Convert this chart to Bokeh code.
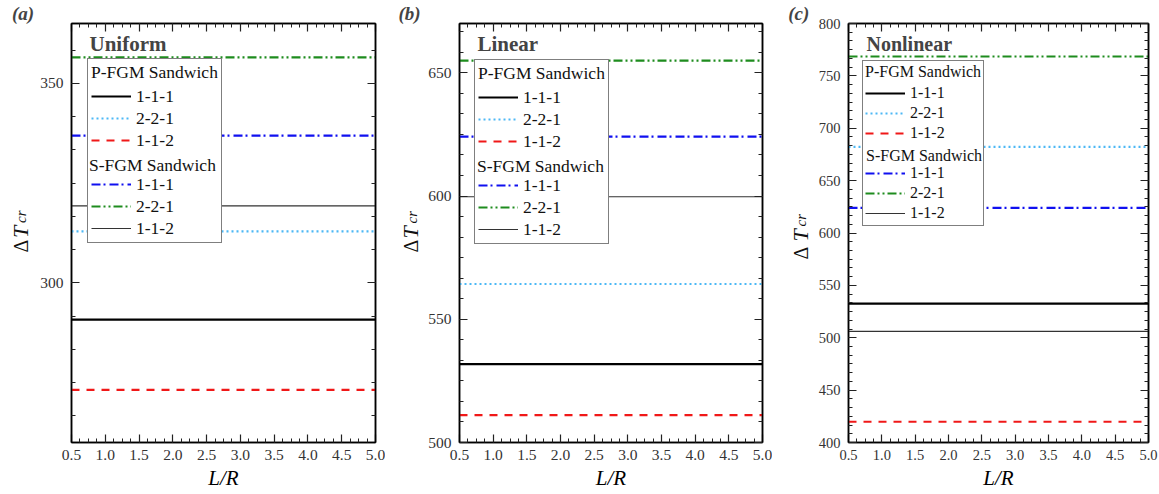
import numpy as np
from math import pi
from bokeh.plotting import figure
from bokeh.models import (Legend, LegendItem, Label, LinearAxis, FixedTicker,
                          PrintfTickFormatter, Range1d, Title)
from bokeh.layouts import row
from bokeh.embed import file_html
from bokeh.resources import INLINE

# ---------------- data ----------------
LR = [0.5, 1.0, 1.5, 2.0, 2.5, 3.0, 3.5, 4.0, 4.5, 5.0]

# (a) Uniform
uni_P111 = [290.8, 290.8, 290.8, 290.8, 290.8, 290.8, 290.8, 290.8, 290.8, 290.8]
uni_P221 = [312.9, 312.9, 312.9, 312.9, 312.9, 312.9, 312.9, 312.9, 312.9, 312.9]
uni_P112 = [273.2, 273.2, 273.2, 273.2, 273.2, 273.2, 273.2, 273.2, 273.2, 273.2]
uni_S111 = [336.9, 336.9, 336.9, 336.9, 336.9, 336.9, 336.9, 336.9, 336.9, 336.9]
uni_S221 = [356.5, 356.5, 356.5, 356.5, 356.5, 356.5, 356.5, 356.5, 356.5, 356.5]
uni_S112 = [319.3, 319.3, 319.3, 319.3, 319.3, 319.3, 319.3, 319.3, 319.3, 319.3]

# (b) Linear
lin_P111 = [531.8, 531.8, 531.8, 531.8, 531.8, 531.8, 531.8, 531.8, 531.8, 531.8]
lin_P221 = [564.3, 564.3, 564.3, 564.3, 564.3, 564.3, 564.3, 564.3, 564.3, 564.3]
lin_P112 = [511.1, 511.1, 511.1, 511.1, 511.1, 511.1, 511.1, 511.1, 511.1, 511.1]
lin_S111 = [624.1, 624.1, 624.1, 624.1, 624.1, 624.1, 624.1, 624.1, 624.1, 624.1]
lin_S221 = [654.9, 654.9, 654.9, 654.9, 654.9, 654.9, 654.9, 654.9, 654.9, 654.9]
lin_S112 = [599.7, 599.7, 599.7, 599.7, 599.7, 599.7, 599.7, 599.7, 599.7, 599.7]

# (c) Nonlinear
non_P111 = [532.5, 532.5, 532.5, 532.5, 532.5, 532.5, 532.5, 532.5, 532.5, 532.5]
non_P221 = [682.2, 682.2, 682.2, 682.2, 682.2, 682.2, 682.2, 682.2, 682.2, 682.2]
non_P112 = [419.8, 419.8, 419.8, 419.8, 419.8, 419.8, 419.8, 419.8, 419.8, 419.8]
non_S111 = [624.0, 624.0, 624.0, 624.0, 624.0, 624.0, 624.0, 624.0, 624.0, 624.0]
non_S221 = [768.5, 768.5, 768.5, 768.5, 768.5, 768.5, 768.5, 768.5, 768.5, 768.5]
non_S112 = [506.1, 506.1, 506.1, 506.1, 506.1, 506.1, 506.1, 506.1, 506.1, 506.1]

series_labels = ["1-1-1", "2-2-1", "1-1-2"]
group_labels = ["P-FGM Sandwich", "S-FGM Sandwich"]
panel_titles = ["Uniform", "Linear", "Nonlinear"]
panel_tags = ["a", "b", "c"]
x_ticks = [0.5, 1.0, 1.5, 2.0, 2.5, 3.0, 3.5, 4.0, 4.5, 5.0]

# ---------------- styles ----------------
SERIF = "Liberation Serif"
FRAME_H = 419
TOP = 23
BOTTOM = 51
STY = {
    "P111": dict(line_color="black", line_width=2.2, line_dash="solid"),
    "P221": dict(line_color="#4CB8F5", line_width=2.2, line_dash="2 3"),
    "P112": dict(line_color="#F01818", line_width=2.2, line_dash="8 7"),
    "S111": dict(line_color="#1010F0", line_width=2.2, line_dash="9 3 2 4"),
    "S221": dict(line_color="#1E8C1E", line_width=2.2, line_dash="9 3 2 3 2 3"),
    "S112": dict(line_color="#333333", line_width=1.1, line_dash="solid"),
}


def label_strip(w, tag, tag_x, anchor, d_off, t_off, c_off):
    """Narrow figure holding the panel tag and the rotated y-axis title."""
    f = figure(frame_width=w, frame_height=FRAME_H, x_range=Range1d(0, w),
               y_range=Range1d(TOP + FRAME_H, TOP), output_backend="svg",
               toolbar_location=None, x_axis_type=None, y_axis_type=None,
               min_border_left=0, min_border_right=0, min_border_top=TOP,
               min_border_bottom=BOTTOM)
    f.outline_line_color = None
    f.xgrid.visible = False
    f.ygrid.visible = False
    f.title = Title(text="(" + tag + ")", align="left", offset=tag_x,
                    text_font=SERIF, text_font_size="19px",
                    text_font_style="bold italic", standoff=0)
    ax, ay = anchor
    common = dict(x=ax, y=ay, angle=pi / 2, text_font=SERIF,
                  text_align="left", text_baseline="middle",
                  text_color="#111111")
    f.add_layout(Label(x_offset=d_off[0], y_offset=d_off[1], text="Δ",
                       text_font_size="20px", **common))
    f.add_layout(Label(x_offset=t_off[0], y_offset=t_off[1], text="T",
                       text_font_size="22px", text_font_style="italic",
                       **common))
    f.add_layout(Label(x_offset=c_off[0], y_offset=c_off[1], text="cr",
                       text_font_size="15px", text_font_style="italic",
                       **common))
    return f


def make_panel(title, data, y_rng, y_major, fw, bl, br, leg, fs_leg, fs_tick,
               row_h, title_fs, vy2_off, vx2_off):
    y0, y1 = y_rng
    p = figure(frame_width=fw, frame_height=FRAME_H, x_range=(0.5, 5.0),
               y_range=(y0, y1), output_backend="svg", toolbar_location=None,
               min_border_left=bl, min_border_right=br, min_border_top=TOP,
               min_border_bottom=BOTTOM)
    p.xgrid.visible = False
    p.ygrid.visible = False
    p.outline_line_color = "black"
    p.outline_line_width = 1.5

    xt = FixedTicker(ticks=x_ticks, minor_ticks=list(np.arange(0.5, 5.001, 0.125)))
    yt = FixedTicker(ticks=y_major,
                     minor_ticks=list(np.arange(y_major[0] - 100, y1 + 1, 50 / 6)))

    def style_axis(ax, labels=True, standoff=6):
        ax.axis_line_color = "black"
        ax.axis_line_width = 1.5
        ax.major_tick_in = 8
        ax.major_tick_out = 0
        ax.minor_tick_in = 4
        ax.minor_tick_out = 0
        ax.major_tick_line_color = "#222222"
        ax.minor_tick_line_color = "#222222"
        ax.major_tick_line_width = 1.2
        ax.minor_tick_line_width = 1
        if labels:
            ax.major_label_text_font = SERIF
            ax.major_label_text_font_size = fs_tick
            ax.major_label_text_color = "#333333"
            ax.major_label_standoff = standoff
        else:
            ax.major_label_text_font_size = "0px"
            ax.major_label_text_color = None
            ax.major_label_standoff = 0

    p.xaxis.ticker = xt
    p.xaxis.formatter = PrintfTickFormatter(format="%.1f")
    p.yaxis.ticker = yt
    style_axis(p.xaxis[0], standoff=7)
    style_axis(p.yaxis[0], standoff=8)
    p.xaxis.axis_label = "L/R"
    p.xaxis.axis_label_text_font = SERIF
    p.xaxis.axis_label_text_font_size = "21px"
    p.xaxis.axis_label_text_font_style = "italic"
    p.xaxis.axis_label_text_color = "black"
    p.xaxis.axis_label_standoff = 3
    ax_top = LinearAxis(ticker=xt)
    ax_right = LinearAxis(ticker=yt)
    style_axis(ax_top, labels=False)
    style_axis(ax_right, labels=False)
    p.add_layout(ax_top, "above")
    p.add_layout(ax_right, "right")

    r = {}
    for key in ["P111", "P221", "P112", "S111", "S221", "S112"]:
        r[key] = p.line(LR, data[key], **STY[key])
    dummy = p.line([], [], line_alpha=0)
    dummy2 = p.line([], [], line_alpha=0)

    vx, vy, pad = leg
    common = dict(margin=0, padding=pad, spacing=0, glyph_width=40,
                  glyph_height=row_h, label_height=row_h, label_standoff=5,
                  label_text_font=SERIF, label_text_font_size=fs_leg,
                  label_text_color="#111111",
                  title_text_font=SERIF, title_text_font_size=fs_leg,
                  title_text_font_style="normal", title_text_color="#111111",
                  title_standoff=2)
    items = [LegendItem(label=series_labels[0], renderers=[r["P111"]]),
             LegendItem(label=series_labels[1], renderers=[r["P221"]]),
             LegendItem(label=series_labels[2], renderers=[r["P112"]]),
             LegendItem(label=" ", renderers=[dummy]),
             LegendItem(label=series_labels[0], renderers=[r["S111"]]),
             LegendItem(label=series_labels[1], renderers=[r["S221"]]),
             LegendItem(label=series_labels[2], renderers=[r["S112"]])]
    legend = Legend(items=items, location=(vx, vy), title=group_labels[0],
                    border_line_color="black", border_line_width=1.2,
                    background_fill_color="white", background_fill_alpha=1.0,
                    **common)
    p.add_layout(legend)
    # second group header, drawn by a transparent legend over the blank row
    legend2 = Legend(items=[LegendItem(label=" ", renderers=[dummy2])],
                     location=(vx + vx2_off, vy + vy2_off),
                     title=group_labels[1],
                     border_line_color=None, background_fill_alpha=0.0,
                     **common)
    p.add_layout(legend2)

    p.add_layout(Label(x=0.5, y=y1, x_offset=18, y_offset=-20, text=title,
                       text_font=SERIF, text_font_size=title_fs,
                       text_font_style="bold", text_baseline="middle"))
    return p


# y-axis title pieces: common anchor (strip px) + screen offsets (+y = up),
# each piece starts (bottom end of the rotated text) at anchor + offset
sa = label_strip(37, panel_tags[0], 11.5, (20.3, 232.0),
                 (0, -20), (0, -5.5), (0.6, 9.5))
pa = make_panel(panel_titles[0],
                dict(P111=uni_P111, P221=uni_P221, P112=uni_P112,
                     S111=uni_S111, S221=uni_S221, S112=uni_S112),
                (260, 365), [300, 350], 304, 33, 10, (16, 199, 3), "17.5px",
                "15.5px", 22, "21px", 43, 2)
sb = label_strip(40, panel_tags[1], 13, (25.2, 232.0),
                 (0, -20), (0, -6), (1.7, 9))
pb = make_panel(panel_titles[1],
                dict(P111=lin_P111, P221=lin_P221, P112=lin_P112,
                     S111=lin_S111, S221=lin_S221, S112=lin_S112),
                (500, 670), [500, 550, 600, 650], 303, 34, 10, (15, 198, 3),
                "17.5px", "15.5px", 22, "21px", 43, 3)
sc = label_strip(40, panel_tags[2], 15.7, (28.2, 236.0),
                 (0, -23), (0, -5), (0.7, 10))
pc = make_panel(panel_titles[2],
                dict(P111=non_P111, P221=non_P221, P112=non_P112,
                     S111=non_S111, S221=non_S221, S112=non_S112),
                (400, 800), [400, 450, 500, 550, 600, 650, 700, 750, 800], 300,
                36, 10, (14, 216, 2), "16px", "14.5px", 20, "20px", 39, 4)

layout = row(sa, pa, sb, pb, sc, pc)
open("out.html", "w").write(file_html(layout, INLINE))
